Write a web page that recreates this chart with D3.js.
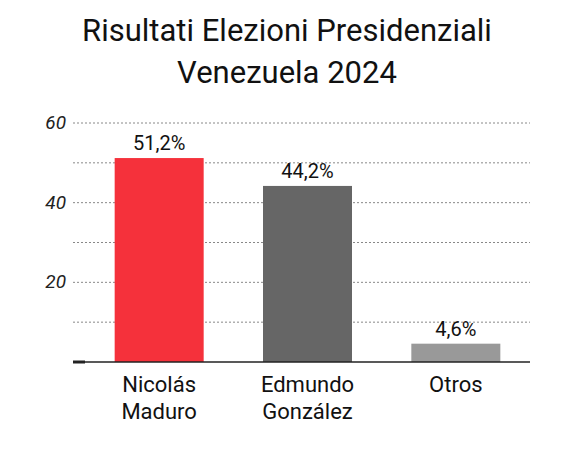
<!DOCTYPE html>
<html><head><meta charset="utf-8">
<script src="https://cdn.jsdelivr.net/npm/d3@7"></script>
<style>body{margin:0;background:#fff}</style>
</head><body><svg id="chart" width="569" height="452"></svg>
<script>
var categories = [["Nicolás", "Maduro"], ["Edmundo", "González"], ["Otros"]];
var values = [51.2, 44.2, 4.6];
var labels = ["51,2%", "44,2%", "4,6%"];
var colors = ["#f5313b", "#666666", "#999999"];
var tickValues = [20, 40, 60];
var gridValues = [10, 20, 30, 40, 50, 60];

var svg = d3.select("#chart");
var font = "Roboto, sans-serif";

// title
svg.append("text").attr("x", 287).attr("y", 41).attr("text-anchor", "middle")
  .attr("font-family", "'Liberation Sans Narrow', Roboto, sans-serif").attr("font-size", 31)
  .attr("fill", "#111").text("Risultati Elezioni Presidenziali");
svg.append("text").attr("x", 287).attr("y", 83).attr("text-anchor", "middle")
  .attr("font-family", "'Liberation Sans Narrow', Roboto, sans-serif").attr("font-size", 31)
  .attr("fill", "#111").text("Venezuela 2024");

var x = d3.scaleBand().domain(d3.range(values.length)).range([85, 530]).paddingInner(0.4).paddingOuter(0.2);
var y = d3.scaleLinear().domain([0, 60]).range([362, 123]);

svg.selectAll(".grid").data(gridValues).enter().append("line")
  .attr("x1", 73).attr("x2", 530).attr("y1", d => y(d)).attr("y2", d => y(d))
  .attr("stroke", "#888").attr("stroke-width", 1).attr("stroke-dasharray", "2,2");

svg.selectAll(".tl").data(tickValues).enter().append("text")
  .attr("x", 66).attr("y", d => y(d) + 6).attr("text-anchor", "end")
  .attr("font-family", font).attr("font-style", "italic").attr("font-size", 19)
  .attr("fill", "#222").text(d => d);

svg.selectAll(".bar").data(values).enter().append("rect")
  .attr("x", (d, i) => x(i)).attr("width", x.bandwidth())
  .attr("y", d => y(d)).attr("height", d => y(0) - y(d))
  .attr("fill", (d, i) => colors[i]);

svg.selectAll(".vl").data(values).enter().append("text")
  .attr("x", (d, i) => x(i) + x.bandwidth() / 2).attr("y", d => y(d) - 8)
  .attr("text-anchor", "middle").attr("font-family", font).attr("font-size", 20)
  .attr("fill", "#111").text((d, i) => labels[i]);

svg.append("line").attr("x1", 73).attr("x2", 530).attr("y1", y(0)).attr("y2", y(0))
  .attr("stroke", "#222").attr("stroke-width", 1.5);
svg.append("line").attr("x1", 73).attr("x2", 85).attr("y1", y(0)).attr("y2", y(0))
  .attr("stroke", "#222").attr("stroke-width", 3);

categories.forEach(function(c, i) {
  var t = svg.append("text").attr("text-anchor", "middle").attr("font-family", font)
    .attr("font-size", 22).attr("fill", "#111");
  c.forEach(function(line, j) {
    t.append("tspan").attr("x", x(i) + x.bandwidth() / 2).attr("y", 392 + j * 27).text(line);
  });
});
</script></body></html>
